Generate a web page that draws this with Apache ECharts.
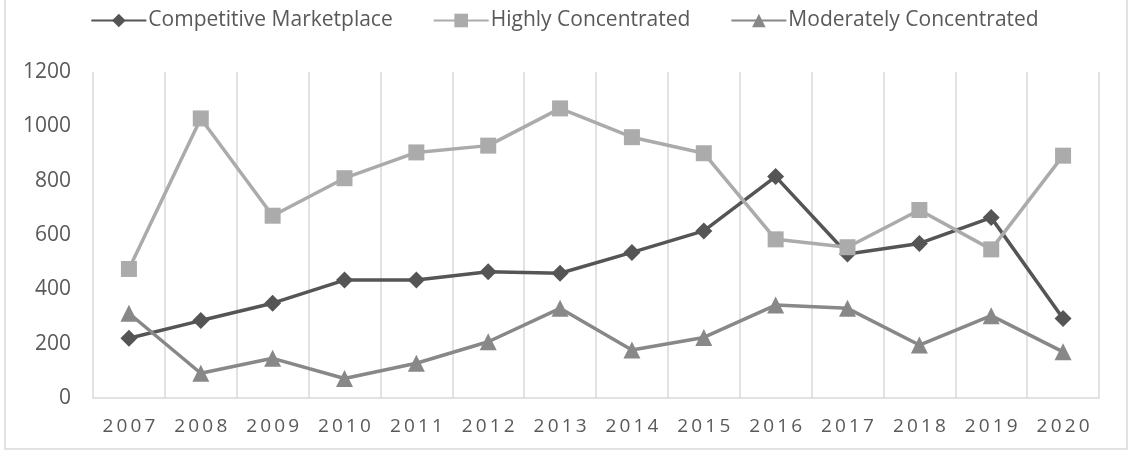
<!DOCTYPE html>
<html>
<head>
<meta charset="utf-8">
<style>html,body{margin:0;padding:0;background:#fff}#chart{width:1129px;height:452px}</style>
<script src="https://cdn.jsdelivr.net/npm/echarts@6/dist/echarts.min.js"></script>
</head>
<body>
<div id="chart"></div>
<script>
var years = ['2007','2008','2009','2010','2011','2012','2013','2014','2015','2016','2017','2018','2019','2020'];
var competitive = [220, 285, 349, 434, 434, 465, 459, 536, 615, 815, 530, 569, 664, 293];
var highly = [475, 1029, 671, 809, 904, 929, 1066, 960, 901, 584, 555, 692, 547, 892];
var moderately = [312, 91, 146, 72, 128, 207, 330, 177, 223, 342, 330, 195, 303, 170];
var yTicks = [0, 200, 400, 600, 800, 1000, 1200];

var chart = echarts.init(document.getElementById('chart'));
var font = '"Open Sans", sans-serif';
function mk(name, data, color, symbol, size) {
  return {
    name: name, type: 'line', data: data,
    symbol: symbol, symbolSize: size,
    lineStyle: {color: color, width: 3.5},
    itemStyle: {color: color},
    emphasis: {disabled: true},
    animation: false
  };
}
chart.setOption({
  animation: false,
  textStyle: {fontFamily: font},
  graphic: [{
    type: 'rect', shape: {x: 5, y: -2, width: 1122, height: 451},
    style: {fill: 'none', stroke: '#d9d9d9', lineWidth: 1.5}, silent: true
  }],
  legend: {
    top: 5, left: 'center',
    itemWidth: 55, itemHeight: 17, itemGap: 40,
    textStyle: {color: '#595959', fontSize: 21, fontFamily: font, padding: [0, 0, 0, -3]},
    data: ['Competitive Marketplace', 'Highly Concentrated', 'Moderately Concentrated']
  },
  grid: {left: 93, right: 30, top: 72, bottom: 54, containLabel: false},
  xAxis: {
    type: 'category', data: years, boundaryGap: true,
    axisLine: {lineStyle: {color: '#d9d9d9', width: 1.5}},
    axisTick: {show: false},
    splitLine: {show: true, lineStyle: {color: '#d9d9d9', width: 1.5}},
    axisLabel: {
      color: '#595959', fontSize: 19, margin: 19, fontFamily: font,
      formatter: function (v) { return v.split('').join('\u2009'); }
    }
  },
  yAxis: {
    type: 'value', min: yTicks[0], max: yTicks[yTicks.length - 1], interval: 200,
    axisLine: {show: false}, axisTick: {show: false}, splitLine: {show: false},
    axisLabel: {color: '#595959', fontSize: 21, margin: 22, fontFamily: font,
      formatter: function (v) { return String(v); }}
  },
  series: [
    mk('Competitive Marketplace', competitive, '#555555', 'diamond', 17),
    mk('Highly Concentrated', highly, '#ababab', 'rect', 16),
    mk('Moderately Concentrated', moderately, '#888888', 'triangle', 17)
  ]
});
</script>
</body>
</html>
